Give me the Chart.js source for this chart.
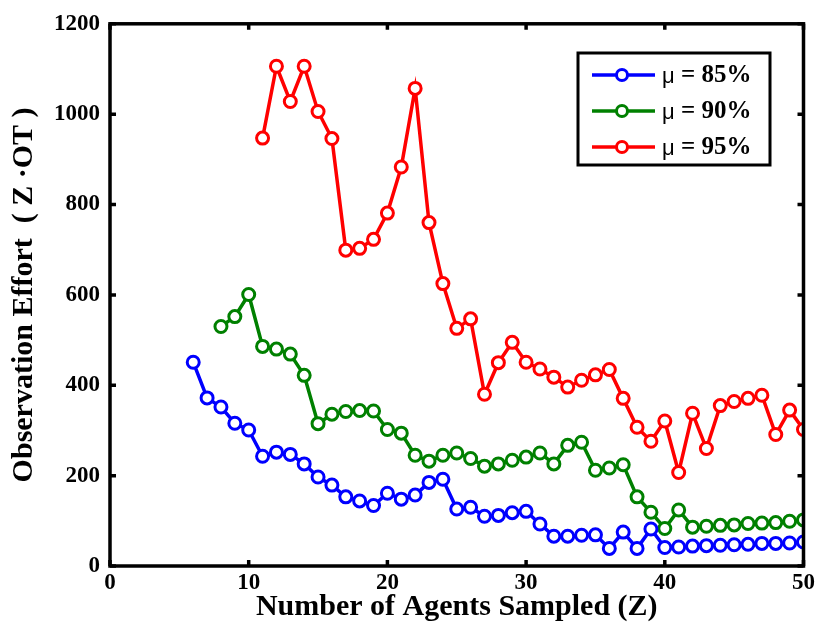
<!DOCTYPE html>
<html>
<head>
<meta charset="utf-8">
<script src="https://cdn.jsdelivr.net/npm/chart.js@4.4.1/dist/chart.umd.min.js"></script>
<style>
  html, body { margin: 0; padding: 0; background: #fff; }
  #wrap { width: 818px; height: 634px; }
</style>
</head>
<body>
<div id="wrap"><canvas id="effort_chart" width="818" height="634"></canvas></div>
<script>
/* -----------------------
data
-------------------------- */
// blue series starts at Z = 6, green at Z = 8, red at Z = 11
const zBlue = [6,7,8,9,10,11,12,13,14,15,16,17,18,19,20,21,22,23,24,25,26,27,28,29,30,31,32,33,34,35,36,37,38,39,40,41,42,43,44,45,46,47,48,49,50];
const mu85 = [451,372,352,316,301,243,252,247,226,197,179,153,144,134,161,148,157,185,192,126,130,110,112,118,121,93,66,66,68,69,39,75,39,82,41,42,44,45,46,47,48,50,50,51,53];

const zGreen = [8,9,10,11,12,13,14,15,16,17,18,19,20,21,22,23,24,25,26,27,28,29,30,31,32,33,34,35,36,37,38,39,40,41,42,43,44,45,46,47,48,49,50];
const mu90 = [530,552,601,486,480,469,422,315,336,342,344,343,302,294,245,232,245,250,238,221,226,234,241,250,226,267,274,212,217,224,153,119,83,124,86,88,90,91,94,95,96,99,102];

const zRed = [11,12,13,14,15,16,17,18,19,20,21,22,23,24,25,26,27,28,29,30,31,32,33,34,35,36,37,38,39,40,41,42,43,44,45,46,47,48,49,50];
const mu95 = [947,1106,1028,1106,1006,946,699,703,723,781,883,1057,760,625,526,547,380,450,495,451,436,418,396,411,423,435,371,307,276,321,207,338,260,355,364,371,378,291,345,302];

const seriesLabels = ["\u03bc = 85%", "\u03bc = 90%", "\u03bc = 95%"];
const seriesColors = ["#0000ff", "#008000", "#ff0000"];

const xTicks = [0, 10, 20, 30, 40, 50];
const yTicks = [0, 200, 400, 600, 800, 1000, 1200];

function pts(xs, ys) {
  return xs.map(function (x, i) { return { x: x, y: ys[i] }; });
}

/* -----------------------
frame, inward ticks, legend
-------------------------- */
const matlabFrame = {
  id: "matlabFrame",
  afterDraw: function (chart) {
    const ctx = chart.ctx;
    const a = chart.chartArea;
    const xs = chart.scales.x;
    const ys = chart.scales.y;
    const tl = 6;
    ctx.save();
    ctx.strokeStyle = "#000";
    ctx.lineWidth = 3.5;
    ctx.beginPath();
    xTicks.forEach(function (v) {
      const px = xs.getPixelForValue(v);
      ctx.moveTo(px, a.bottom); ctx.lineTo(px, a.bottom - tl);
      ctx.moveTo(px, a.top); ctx.lineTo(px, a.top + tl);
    });
    yTicks.forEach(function (v) {
      const py = ys.getPixelForValue(v);
      ctx.moveTo(a.left, py); ctx.lineTo(a.left + tl, py);
      ctx.moveTo(a.right, py); ctx.lineTo(a.right - tl, py);
    });
    ctx.stroke();
    ctx.strokeRect(a.left, a.top, a.right - a.left, a.bottom - a.top);

    // legend box
    const lx = 578, ly = 53, lw = 192, lh = 112;
    ctx.fillStyle = "#fff";
    ctx.fillRect(lx, ly, lw, lh);
    ctx.lineWidth = 3;
    ctx.strokeRect(lx, ly, lw, lh);
    seriesLabels.forEach(function (lab, i) {
      const ry = 75 + i * 36;
      ctx.strokeStyle = seriesColors[i];
      ctx.lineWidth = 3.5;
      ctx.beginPath();
      ctx.moveTo(592, ry); ctx.lineTo(655, ry);
      ctx.stroke();
      ctx.beginPath();
      ctx.arc(622, ry, 5.5, 0, Math.PI * 2);
      ctx.fillStyle = "#fff";
      ctx.fill();
      ctx.lineWidth = 3;
      ctx.stroke();
      ctx.fillStyle = "#000";
      ctx.textBaseline = "middle";
      ctx.textAlign = "left";
      ctx.font = "22px 'Liberation Sans'";
      ctx.fillText(lab.charAt(0), 662, ry + 2);
      const w = ctx.measureText(lab.charAt(0)).width;
      ctx.font = "bold 25px 'Liberation Serif'";
      ctx.fillText(lab.slice(1), 662 + w, ry + 1);
    });
    ctx.restore();
  }
};

/* -----------------------
line chart
-------------------------- */
const tickFont = { family: "'Liberation Serif'", size: 23, weight: "bold" };
const titleFont = { family: "'Liberation Serif'", size: 30, weight: "bold" };

function ds(i, xs, ys) {
  return {
    label: seriesLabels[i],
    data: pts(xs, ys),
    borderColor: seriesColors[i],
    backgroundColor: "#fff",
    borderWidth: 3.5,
    pointRadius: 6,
    pointBorderWidth: 3,
    pointBackgroundColor: "#fff",
    pointBorderColor: seriesColors[i],
    tension: 0
  };
}

new Chart(document.getElementById("effort_chart"), {
  type: "line",
  data: {
    datasets: [ds(0, zBlue, mu85), ds(1, zGreen, mu90), ds(2, zRed, mu95)]
  },
  plugins: [matlabFrame],
  options: {
    responsive: false,
    animation: false,
    layout: { padding: { top: 18, right: 13, left: 0, bottom: 0 } },
    plugins: {
      legend: { display: false },
      tooltip: { enabled: false }
    },
    scales: {
      x: {
        type: "linear",
        min: 0,
        max: 50,
        afterFit: function (s) { s.height = 68; },
        afterBuildTicks: function (s) { s.ticks = xTicks.map(function (v) { return { value: v }; }); },
        grid: { display: false, drawTicks: false },
        border: { display: false },
        ticks: { color: "#000", font: tickFont, padding: 3, maxRotation: 0, callback: function (v) { return String(v); } },
        title: {
          display: true,
          text: "Number of Agents Sampled (Z)",
          color: "#000",
          font: titleFont,
          padding: { top: 0, bottom: 9 }
        }
      },
      y: {
        min: 0,
        max: 1200,
        afterFit: function (s) { s.width = 110; },
        afterBuildTicks: function (s) { s.ticks = yTicks.map(function (v) { return { value: v }; }); },
        grid: { display: false, drawTicks: false },
        border: { display: false },
        ticks: { color: "#000", font: tickFont, padding: 10, callback: function (v) { return String(v); } },
        title: {
          display: true,
          text: "Observation Effort\u00a0 ( Z \u00b7OT )",
          color: "#000",
          font: titleFont,
          padding: { top: 6, bottom: 0 }
        }
      }
    }
  }
});
</script>
</body>
</html>
